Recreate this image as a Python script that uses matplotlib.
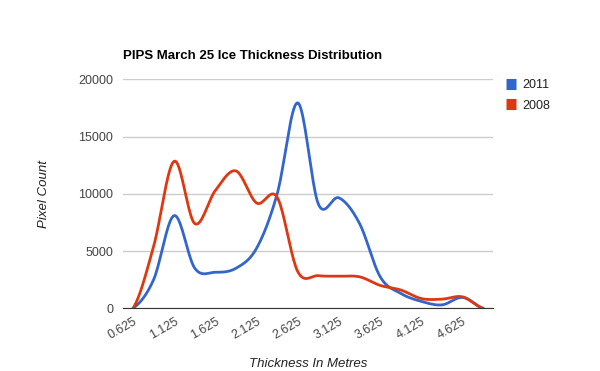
import numpy as np
import matplotlib.pyplot as plt

plt.rcParams['font.family'] = ['Liberation Sans', 'DejaVu Sans']

thickness = [0.625, 0.875, 1.125, 1.375, 1.625, 1.875, 2.125, 2.375, 2.625,
             2.875, 3.125, 3.375, 3.625, 3.875, 4.125, 4.375, 4.625, 4.875]
y2011 = [0, 2500, 8100, 3500, 3150, 3500, 5250, 10000, 17950,
         9100, 9650, 7400, 2750, 1300, 600, 300, 950, 0]
y2008 = [0, 5400, 12850, 7400, 10300, 12000, 9200, 9700, 3200,
         2850, 2800, 2750, 2000, 1600, 850, 800, 1000, 0]
tick_labels = ['0.625', '1.125', '1.625', '2.125', '2.625', '3.125', '3.625', '4.125', '4.625']


def smooth(x, y, n=20):
    # catmull-rom through the points, like the google chart "function" curve
    x = np.asarray(x, float)
    y = np.asarray(y, float)
    px = np.concatenate([[2 * x[0] - x[1]], x, [2 * x[-1] - x[-2]]])
    py = np.concatenate([[y[0]], y, [y[-1]]])
    xs, ys = [], []
    t = np.linspace(0, 1, n, endpoint=False)
    for i in range(1, len(px) - 2):
        for p, out in ((px, xs), (py, ys)):
            p0, p1, p2, p3 = p[i - 1], p[i], p[i + 1], p[i + 2]
            out.extend(0.5 * ((2 * p1) + (-p0 + p2) * t
                              + (2 * p0 - 5 * p1 + 4 * p2 - p3) * t ** 2
                              + (-p0 + 3 * p1 - 3 * p2 + p3) * t ** 3))
    xs.append(x[-1])
    ys.append(y[-1])
    return np.array(xs), np.array(ys)


fig = plt.figure(figsize=(6, 3.71), dpi=100)
ax = fig.add_axes([0.205, 0.169, 0.617, 0.617])

idx = np.arange(len(thickness))
sx, sy = smooth(idx, y2011)
ax.plot(sx, sy, color='#3366cc', lw=2, label='2011', solid_capstyle='round')
sx, sy = smooth(idx, y2008)
ax.plot(sx, sy, color='#dc3912', lw=2, label='2008', solid_capstyle='round')

ax.set_ylim(0, 20000)
ax.set_xlim(-0.485, len(thickness) - 1 + 0.485)
ax.set_yticks([0, 5000, 10000, 15000, 20000])
ax.set_xticks(idx[::2])
ax.set_xticklabels(tick_labels, rotation=30, ha='right', rotation_mode='anchor')
ax.tick_params(length=0, colors='#444444', labelsize=9, pad=7)
ax.tick_params(axis='x', pad=5)
ax.grid(axis='y', color='#cccccc', lw=1)
ax.set_axisbelow(True)
for s in ['top', 'right', 'left']:
    ax.spines[s].set_visible(False)
ax.spines['bottom'].set_color('#333333')

ax.set_title('PIPS March 25 Ice Thickness Distribution', fontsize=9.5,
             fontweight='bold', loc='left', pad=15)
ax.set_xlabel('Thickness In Metres', style='italic', color='#222222', fontsize=9.5, labelpad=12)
ax.set_ylabel('Pixel Count', style='italic', color='#222222', fontsize=9.5, labelpad=20)

leg = ax.legend(loc='upper left', bbox_to_anchor=(1.005, 1.05), frameon=False,
                handlelength=0.8, handleheight=0.8, fontsize=9, labelcolor='#222222',
                handletextpad=0.5, labelspacing=0.65)
for h in leg.legend_handles:
    h.set_linewidth(8)
    h.set_solid_capstyle('butt')

fig.savefig('out.png', dpi=100)
